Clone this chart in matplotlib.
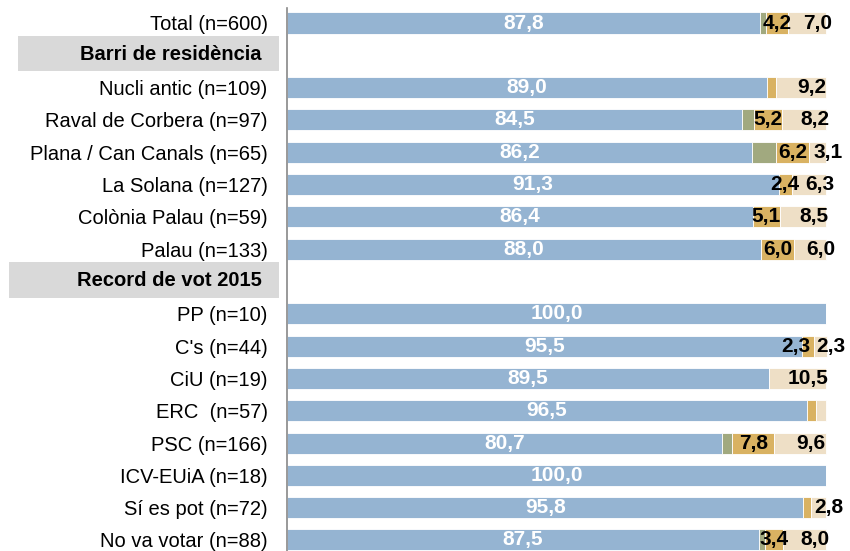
import matplotlib
matplotlib.use("Agg")
import matplotlib.pyplot as plt
import matplotlib.transforms as mtransforms
from matplotlib.patches import Rectangle
import numpy as np

plt.rcParams['font.family'] = ['Liberation Sans', 'DejaVu Sans']

# rows, top to bottom; None marks a group header row
labels = ['Total (n=600)', 'Barri de residència', 'Nucli antic (n=109)', 'Raval de Corbera (n=97)',
          'Plana / Can Canals (n=65)', 'La Solana (n=127)', 'Colònia Palau (n=59)', 'Palau (n=133)',
          'Record de vot 2015', 'PP (n=10)', "C's (n=44)", 'CiU (n=19)', 'ERC  (n=57)', 'PSC (n=166)',
          'ICV-EUiA (n=18)', 'Sí es pot (n=72)', 'No va votar (n=88)']
headers = ['Barri de residència', 'Record de vot 2015']

blue  = [87.8, None, 89.0, 84.5, 86.2, 91.3, 86.4, 88.0, None, 100.0, 95.5, 89.5, 96.5, 80.7, 100.0, 95.8, 87.5]
green = [1.0,  None, 0.0,  2.1,  4.5,  0.0,  0.0,  0.0,  None, 0.0,   0.0,  0.0,  0.0,  1.9,  0.0,   0.0,  1.1]
gold  = [4.2,  None, 1.8,  5.2,  6.2,  2.4,  5.1,  6.0,  None, 0.0,   2.3,  0.0,  1.7,  7.8,  0.0,   1.4,  3.4]
beige = [7.0,  None, 9.2,  8.2,  3.1,  6.3,  8.5,  6.0,  None, 0.0,   2.3,  10.5, 1.8,  9.6,  0.0,   2.8,  8.0]

c_blue, c_green, c_gold, c_beige = '#95b4d2', '#a1a97f', '#d9b262', '#eedfc6'

def fmt(v):
    return f'{v:.1f}'.replace('.', ',')

fig = plt.figure(figsize=(8.5, 5.51), dpi=100)
ax = fig.add_axes([287 / 850, 0, 1 - 287 / 850, 1])

y = np.arange(len(labels))
idx = [i for i in y if blue[i] is not None]
b = np.array([blue[i] for i in idx])
g = np.array([green[i] for i in idx])
o = np.array([gold[i] for i in idx])
e = np.array([beige[i] for i in idx])

h = 0.65
kw = dict(height=h, edgecolor='white', linewidth=0.6)
ax.barh(idx, b, color=c_blue, **kw)
ax.barh(idx, g, left=b, color=c_green, **kw)
ax.barh(idx, o, left=b + g, color=c_gold, **kw)
ax.barh(idx, e, left=b + g + o, color=c_beige, **kw)

fs = 15
for k, i in enumerate(idx):
    ax.text(b[k] / 2, i, fmt(b[k]), ha='center', va='center', color='white',
            fontsize=fs, fontweight='bold')
    ex = b[k] + g[k] + o[k] + e[k] / 2 + 2
    if e[k] >= 2:
        ax.text(ex, i, fmt(e[k]), ha='center', va='center',
                color='black', fontsize=fs, fontweight='bold')
    if o[k] >= 2:
        ox = b[k] + g[k] + o[k] / 2
        if e[k] >= 2:
            ox = min(ox, ex - 6.5)
        ax.text(ox, i, fmt(o[k]), ha='center', va='center',
                color='black', fontsize=fs, fontweight='bold')

s = 32.31
ax.set_ylim(-23 / s + 551 / s, -23 / s)
ax.set_xlim(0, (850 - 287) / 539 * 100)

ax.set_yticks(y)
ax.set_yticklabels(['' if l in headers else l for l in labels], fontsize=14.5)
ax.tick_params(axis='y', length=0, pad=14)
ax.set_xticks([])
for side in ['top', 'right', 'bottom']:
    ax.spines[side].set_visible(False)
ax.spines['left'].set_color('#888888')
ax.spines['left'].set_linewidth(1.2)
ax.spines['left'].set_bounds(-0.45, 16.6)

trans = mtransforms.blended_transform_factory(fig.transFigure, ax.transData)
box_left = {'Barri de residència': 18, 'Record de vot 2015': 9}
for lab in headers:
    i = labels.index(lab)
    x0 = box_left[lab] / 850
    ax.add_patch(Rectangle((x0, i - 0.6), 279 / 850 - x0, 1.1, transform=trans,
                           facecolor='#d9d9d9', edgecolor='none', clip_on=False, zorder=0))
    ax.text(262 / 850, i - 0.02, lab, transform=trans, ha='right', va='center',
            fontsize=14.5, fontweight='bold')

fig.savefig('out.png', dpi=100)
